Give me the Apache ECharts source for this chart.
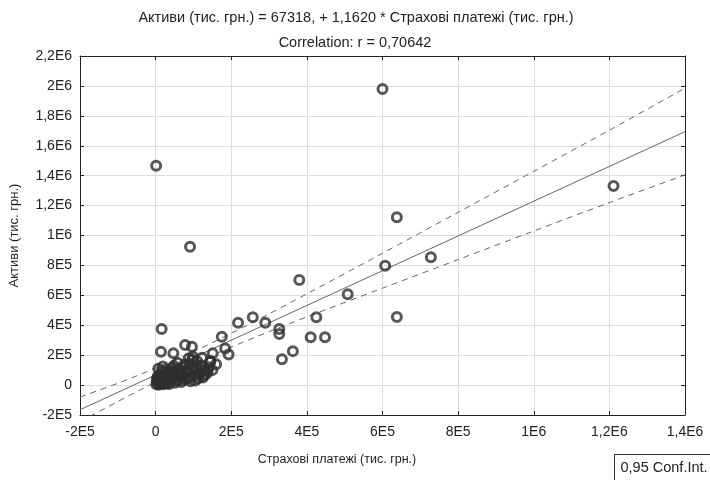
<!DOCTYPE html>
<html>
<head>
<meta charset="utf-8">
<script src="https://cdn.jsdelivr.net/npm/echarts@6/dist/echarts.min.js"></script>
<style>
html,body{margin:0;padding:0;background:#fff;}
#chart{width:710px;height:480px;}
</style>
</head>
<body>
<div id="chart"></div>
<script>
// Scatter data: Страхові платежі (x) vs Активи (y), тис. грн.
var xValues = [
  1300, 91000, 600000, 638000, 607000, 728000, 638000, 1211000,
  380000, 508000, 257000, 218000, 290000, 327000, 327000, 425000, 410000, 448000, 363000, 334000,
  175000, 184000, 193000, 151000, 135000,
  16000, 14000, 47000, 78000, 96000, 99000, 123000, 144000, 109000,
  2000, 5000, 8000, 10000, 12000, 15000, 18000, 20000, 3000, 25000, 6000, 14000, 22000, 30000, 28000,
  35000, 40000, 45000, 50000, 55000, 60000, 65000, 70000, 75000, 80000, 38000, 48000, 58000, 68000,
  85000, 90000, 95000, 100000, 105000, 110000, 115000, 120000, 125000, 130000, 88000,
  140000, 145000, 150000,
  4000, 9000, 16000, 24000, 32000, 42000, 52000, 62000, 72000, 82000, 92000, 102000, 112000, 118000,
  7000, 19000, 27000, 36000, 44000, 53000, 66000, 77000, 86000, 97000, 108000, 128000, 138000, 160000
];
var yValues = [
  1467000, 925000, 1980000, 1122000, 798000, 854000, 455000, 1331000,
  702000, 607000, 453000, 417000, 417000, 375000, 341000, 453000, 319000, 319000, 227000, 172000,
  323000, 245000, 205000, 212000, 78000,
  375000, 223000, 212000, 268000, 256000, 189000, 183000, 156000, 67000,
  5000, 15000, 2000, 30000, 10000, 20000, 45000, 5000, 40000, 30000, 60000, 70000, 55000, 10000, 80000,
  40000, 20000, 60000, 90000, 30000, 110000, 50000, 75000, 120000, 40000, 100000, 130000, 150000, 20000,
  90000, 140000, 60000, 110000, 30000, 160000, 80000, 130000, 50000, 100000, 180000,
  120000, 160000, 100000,
  25000, 50000, 95000, 12000, 65000, 85000, 15000, 70000, 35000, 100000, 25000, 85000, 45000, 105000,
  110000, 125000, 100000, 8000, 115000, 55000, 95000, 140000, 45000, 170000, 120000, 65000, 95000, 140000
];
// Regression: Активи = 67318 + 1,1620 * Страхові платежі
var regIntercept = 67318;
var regSlope = 1.1620;
var regX = [-200000, 1400000];
// 0,95 confidence band
var bandX     = [-200000, -100000, 0, 100000, 200000, 300000, 400000, 600000, 800000, 1000000, 1200000, 1400000];
var bandUpper = [-80000, 12000, 114000, 224000, 346000, 476000, 610000, 881000, 1155000, 1429000, 1704000, 1985000];
var bandLower = [-245000, -110000, 20000, 143000, 254000, 357000, 456000, 648000, 839000, 1030000, 1220000, 1405000];
// Tick labels
var xTicks = [-200000, 0, 200000, 400000, 600000, 800000, 1000000, 1200000, 1400000];
var xTickLabels = ['-2E5', '0', '2E5', '4E5', '6E5', '8E5', '1E6', '1,2E6', '1,4E6'];
var yTicks = [-200000, 0, 200000, 400000, 600000, 800000, 1000000, 1200000, 1400000, 1600000, 1800000, 2000000, 2200000];
var yTickLabels = ['-2E5', '0', '2E5', '4E5', '6E5', '8E5', '1E6', '1,2E6', '1,4E6', '1,6E6', '1,8E6', '2E6', '2,2E6'];

var titleLine1 = 'Активи (тис. грн.) = 67318, + 1,1620 * Страхові платежі (тис. грн.)';
var titleLine2 = 'Correlation: r = 0,70642';
var xName = 'Страхові платежі (тис. грн.)';
var yName = 'Активи (тис. грн.)';
var legendText = '0,95 Conf.Int.';

function lbl(ticks, labels) {
  return function (v) {
    for (var i = 0; i < ticks.length; i++) {
      if (Math.abs(ticks[i] - v) < 1) return labels[i];
    }
    return '';
  };
}

var FONT = 'Liberation Sans, Arial, sans-serif';
var TXT = '#222';
var chart = echarts.init(document.getElementById('chart'), null, {renderer: 'canvas'});

var scatterData = xValues.map(function (x, i) { return [x, yValues[i]]; });
var regData = regX.map(function (x) { return [x, regIntercept + regSlope * x]; });
var upperData = bandX.map(function (x, i) { return [x, bandUpper[i]]; });
var lowerData = bandX.map(function (x, i) { return [x, bandLower[i]]; });

var axisCommonX = {type: 'value', min: -200000, max: 1400000, interval: 200000};
var axisCommonY = {type: 'value', min: -200000, max: 2200000, interval: 200000};

chart.setOption({
  animation: false,
  backgroundColor: '#fff',
  title: [
    {text: titleLine1, left: 351, textAlign: 'center', top: 5, textStyle: {fontFamily: FONT, fontSize: 14.5, fontWeight: 'normal', color: TXT}},
    {text: titleLine2, left: 350, textAlign: 'center', top: 30, textStyle: {fontFamily: FONT, fontSize: 14.5, fontWeight: 'normal', color: TXT}}
  ],
  grid: {left: 80, right: 25, top: 56, bottom: 65, containLabel: false, outerBoundsMode: 'none'},
  xAxis: [
    Object.assign({}, axisCommonX, {
      position: 'bottom',
      name: xName, nameLocation: 'middle', nameGap: 38,
      nameTextStyle: {fontFamily: FONT, fontSize: 12.5, color: TXT, padding: [0, 91, 0, 0]},
      axisLine: {onZero: false, lineStyle: {color: '#222', width: 1}},
      axisTick: {inside: true, length: 4, lineStyle: {color: '#222'}},
      axisLabel: {formatter: lbl(xTicks, xTickLabels), fontFamily: FONT, fontSize: 14, color: TXT, margin: 10},
      splitLine: {show: true, lineStyle: {color: '#dcdcdc', width: 1}}
    }),
    Object.assign({}, axisCommonX, {
      position: 'top',
      axisLine: {onZero: false, lineStyle: {color: '#222', width: 1}},
      axisTick: {inside: true, length: 4, lineStyle: {color: '#222'}},
      axisLabel: {show: false},
      splitLine: {show: false}
    })
  ],
  yAxis: [
    Object.assign({}, axisCommonY, {
      position: 'left',
      name: yName, nameLocation: 'middle', nameGap: 59, nameRotate: 90,
      nameTextStyle: {fontFamily: FONT, fontSize: 13, color: TXT},
      axisLine: {show: true, onZero: false, lineStyle: {color: '#222', width: 1}},
      axisTick: {show: true, inside: true, length: 4, lineStyle: {color: '#222'}},
      axisLabel: {formatter: lbl(yTicks, yTickLabels), fontFamily: FONT, fontSize: 14, color: TXT, margin: 8},
      splitLine: {show: true, lineStyle: {color: '#dcdcdc', width: 1}}
    }),
    Object.assign({}, axisCommonY, {
      position: 'right',
      axisLine: {show: true, onZero: false, lineStyle: {color: '#222', width: 1}},
      axisTick: {show: true, inside: true, length: 4, lineStyle: {color: '#222'}},
      axisLabel: {show: false},
      splitLine: {show: false}
    })
  ],
  series: [
    {
      type: 'line', name: 'regression', data: regData, symbol: 'none', clip: true,
      lineStyle: {color: '#666', width: 1}, z: 3
    },
    {
      type: 'line', name: legendText, data: upperData, symbol: 'none', smooth: 0.3, clip: true,
      lineStyle: {color: '#666', width: 1, type: [6, 5]}, z: 3
    },
    {
      type: 'line', name: legendText + ' ', data: lowerData, symbol: 'none', smooth: 0.3, clip: true,
      lineStyle: {color: '#666', width: 1, type: [6, 5]}, z: 3
    },
    {
      type: 'scatter', name: 'data', data: scatterData, symbol: 'circle', symbolSize: 9,
      itemStyle: {color: 'rgba(0,0,0,0)', borderColor: '#2e2e2e', borderWidth: 3}, z: 4
    }
  ],
  graphic: [
    {
      type: 'group', left: 614, top: 454,
      children: [
        {type: 'rect', shape: {x: 0, y: 0, width: 100, height: 27}, style: {fill: '#fff', stroke: '#333', lineWidth: 1}},
        {type: 'text', style: {x: 6, y: 6, text: legendText, font: '14.5px ' + FONT, fill: TXT}}
      ]
    }
  ]
});
</script>
</body>
</html>
